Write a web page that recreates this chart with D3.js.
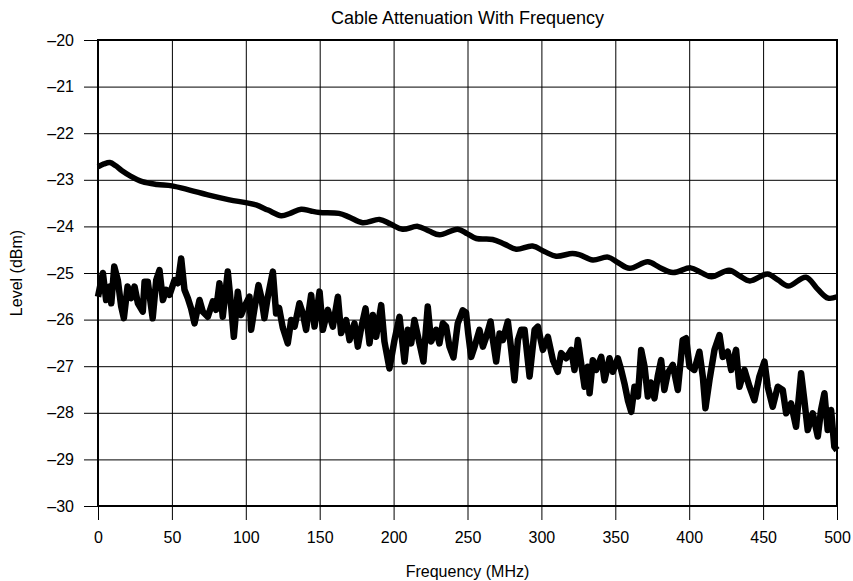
<!DOCTYPE html>
<html>
<head>
<meta charset="utf-8">
<script src="https://cdn.jsdelivr.net/npm/d3@7"></script>
<style>
  body { margin: 0; background: #fff; }
  text { font-family: "Liberation Sans", Arial, sans-serif; fill: #000; }
</style>
</head>
<body>
<svg id="chart"></svg>
<script>
// Tick values
const xTicks = [0, 50, 100, 150, 200, 250, 300, 350, 400, 450, 500];
const yTicks = [-30, -29, -28, -27, -26, -25, -24, -23, -22, -21, -20];

// Upper (smooth) trace
const upperFreq = [0, 4, 8, 12, 16, 22, 30, 40, 50, 62, 75, 89, 100, 107, 115, 124, 130, 137.5, 144, 150,
  163, 170, 179, 190.5, 198, 206, 216.4, 224, 231, 243.4, 250, 256, 267, 275, 283, 294, 302, 310, 321, 326,
  334.8, 345, 352, 359.6, 372, 380, 389, 401, 408, 415, 427, 434, 441, 453, 460, 467, 479, 487, 494, 500];
const upperLevel = [-22.72, -22.66, -22.63, -22.70, -22.80, -22.92, -23.04, -23.10, -23.13, -23.22, -23.33, -23.43, -23.49, -23.54, -23.65, -23.77, -23.72, -23.63, -23.67, -23.70,
  -23.72, -23.80, -23.92, -23.85, -23.95, -24.06, -24.00, -24.10, -24.18, -24.06, -24.16, -24.26, -24.28, -24.38, -24.49, -24.42, -24.54, -24.64, -24.58, -24.61,
  -24.72, -24.66, -24.78, -24.90, -24.76, -24.88, -24.99, -24.89, -24.99, -25.08, -24.94, -25.06, -25.17, -25.02, -25.15, -25.28, -25.09, -25.35, -25.54, -25.51];

// Lower (noisy) trace
const lowerFreq = [0, 3.3, 5.5, 7.8, 9, 11, 13.4, 15.7, 17.5, 20, 22.4, 24.7, 27, 30.3, 31.5, 33.7, 37, 39.4, 41.6, 43.9,
  46.1, 48.4, 51.8, 54, 56.3, 58.5, 60.8, 63, 65.3, 68.7, 70.9, 74.3, 77.7, 79.9, 82.2, 84.4, 87.8, 90.1, 91.9, 94.6,
  96.8, 99.1, 102.5, 103.6, 105.9, 108.6, 110.4, 112.6, 114.9, 118.3, 120.5, 122.5, 125, 128.4, 130.7, 133, 136.3, 138.6, 140.8, 144.2,
  146.5, 149.9, 152.1, 155.5, 158.9, 162.3, 164.5, 167.9, 170.2, 173.5, 175.8, 178, 181, 183.7, 186, 188.2, 191.6, 193.8, 197.2, 200.6,
  204, 207.4, 209.6, 211.9, 214.1, 217.5, 220.2, 223.1, 225.4, 228.8, 231, 233.3, 235.5, 237.8, 240.5, 243.4, 246.8, 249, 250.5, 252.5,
  254.8, 258.1, 260.4, 262.7, 265.6, 267.2, 269.4, 271.7, 273.9, 277.3, 279.6, 281.8, 284.1, 286.3, 288.6, 292, 295.4, 297.6, 301, 304.4,
  307.8, 311.1, 313.4, 316.8, 320.2, 322.4, 324.7, 326.9, 329.2, 331.4, 332.6, 334.8, 337.1, 340.5, 342.7, 346.1, 348.3, 351.7, 354, 356.2,
  358.5, 360.8, 363, 365.3, 367.5, 369.8, 372, 374, 376.5, 378.7, 381, 383.2, 385.5, 388.9, 392.3, 395.6, 397.9, 400.2, 403.5, 406.9,
  409.2, 411, 413.7, 417.1, 420.5, 422.7, 426.1, 428.4, 431.7, 434, 437.4, 440.8, 444.1, 447.5, 450.9, 453.1, 456.5, 459.9, 463.3, 465.6,
  468.9, 472.3, 475.7, 477.9, 480.2, 483.6, 487, 489.2, 491.5, 493.7, 496, 498.2, 500];
const lowerLevel = [-25.51, -25.00, -25.58, -25.29, -25.65, -24.86, -25.15, -25.72, -25.97, -25.29, -25.54, -25.29, -25.65, -25.83, -25.19, -25.19, -25.97, -25.15, -24.94, -25.58,
  -25.36, -25.47, -25.15, -25.22, -24.69, -25.36, -25.54, -25.76, -26.08, -25.58, -25.83, -25.94, -25.61, -25.79, -25.22, -25.94, -24.97, -25.72, -26.37, -25.40,
  -25.90, -25.72, -25.51, -26.22, -25.76, -25.26, -25.51, -25.97, -25.51, -24.97, -25.87, -25.75, -26.17, -26.51, -26.01, -26.15, -25.65, -25.87, -26.22, -25.47,
  -26.15, -25.40, -26.22, -25.79, -26.15, -25.51, -26.29, -26.01, -26.44, -26.08, -26.58, -26.19, -25.76, -26.51, -25.90, -26.37, -25.69, -26.47, -27.05, -26.44,
  -25.94, -26.90, -26.22, -26.51, -26.01, -26.51, -26.90, -25.72, -26.47, -26.22, -26.51, -26.08, -26.15, -26.58, -26.81, -26.08, -25.80, -25.85, -26.30, -26.80,
  -26.58, -26.22, -26.58, -26.37, -26.04, -26.44, -26.90, -26.30, -26.44, -26.04, -26.65, -27.30, -26.44, -26.22, -26.22, -27.22, -26.22, -26.15, -26.65, -26.37,
  -26.87, -27.12, -26.72, -26.83, -26.65, -27.08, -26.44, -26.94, -27.44, -27.01, -27.58, -26.87, -27.08, -26.80, -27.30, -26.83, -27.12, -26.83, -27.08, -27.37,
  -27.73, -27.98, -27.44, -27.65, -26.65, -27.01, -27.65, -27.35, -27.69, -27.22, -26.87, -27.51, -27.15, -26.97, -27.51, -26.44, -26.40, -27.01, -27.08, -26.69,
  -27.22, -27.90, -27.30, -26.65, -26.33, -26.80, -26.69, -27.08, -26.65, -27.44, -27.08, -27.44, -27.73, -27.22, -26.90, -27.44, -27.87, -27.44, -27.51, -28.01,
  -27.80, -28.30, -27.15, -27.73, -28.37, -28.01, -28.51, -27.94, -27.58, -28.37, -27.94, -28.73, -28.80];

const title = "Cable Attenuation With Frequency";
const xTitle = "Frequency (MHz)";
const yTitle = "Level (dBm)";

// Chart dimensions
const width = 853;
const height = 581;
const margin = { top: 40, right: 16, bottom: 75, left: 98 };
const plotW = width - margin.left - margin.right;
const plotH = height - margin.top - margin.bottom;

const svg = d3.select("#chart")
    .attr("width", width)
    .attr("height", height);

const g = svg.append("g")
    .attr("transform", `translate(${margin.left}, ${margin.top})`);

const x = d3.scaleLinear().domain([0, 500]).range([0, plotW]);
const y = d3.scaleLinear().domain([-30, -20]).range([plotH, 0]);

const fmt = d => d < 0 ? "\u2013" + Math.abs(d) : String(d);

// Gridlines
g.append("g")
    .attr("class", "grid")
    .call(d3.axisLeft(y).tickValues(yTicks).tickSize(-plotW).tickFormat(""))
    .call(s => s.select(".domain").remove())
    .selectAll("line").attr("stroke", "#000").attr("stroke-width", 1);

g.append("g")
    .attr("class", "grid")
    .attr("transform", `translate(0, ${plotH})`)
    .call(d3.axisBottom(x).tickValues(xTicks).tickSize(-plotH).tickFormat(""))
    .call(s => s.select(".domain").remove())
    .selectAll("line").attr("stroke", "#000").attr("stroke-width", 1);

// Axes with outward ticks
g.append("g")
    .call(d3.axisLeft(y).tickValues(yTicks).tickSize(14).tickPadding(10).tickFormat(fmt))
    .call(s => s.select(".domain").remove())
    .selectAll("text")
    .style("font-size", "16px")
    .attr("fill", "#000");

g.append("g")
    .attr("transform", `translate(0, ${plotH})`)
    .call(d3.axisBottom(x).tickValues(xTicks).tickSize(14).tickPadding(12).tickFormat(fmt))
    .call(s => s.select(".domain").remove())
    .selectAll("text")
    .style("font-size", "16px")
    .attr("fill", "#000");

// Plot frame
g.append("rect")
    .attr("width", plotW)
    .attr("height", plotH)
    .attr("fill", "none")
    .attr("stroke", "#000")
    .attr("stroke-width", 2);

// Traces
const upper = upperFreq.map((f, i) => ({ f: f, v: upperLevel[i] }));
const lower = lowerFreq.map((f, i) => ({ f: f, v: lowerLevel[i] }));

g.append("path")
    .datum(lower)
    .attr("fill", "none")
    .attr("stroke", "#000")
    .attr("stroke-width", 6.5)
    .attr("stroke-linejoin", "round")
    .attr("d", d3.line().x(d => x(d.f)).y(d => y(d.v)));

g.append("path")
    .datum(upper)
    .attr("fill", "none")
    .attr("stroke", "#000")
    .attr("stroke-width", 5.5)
    .attr("stroke-linejoin", "round")
    .attr("d", d3.line().curve(d3.curveCatmullRom).x(d => x(d.f)).y(d => y(d.v)));

// Titles
svg.append("text")
    .attr("x", margin.left + plotW / 2)
    .attr("y", 24)
    .attr("text-anchor", "middle")
    .style("font-size", "18px")
    .text(title);

svg.append("text")
    .attr("x", margin.left + plotW / 2)
    .attr("y", 577)
    .attr("text-anchor", "middle")
    .style("font-size", "16px")
    .text(xTitle);

svg.append("text")
    .attr("transform", `translate(22, ${margin.top + plotH / 2}) rotate(-90)`)
    .attr("text-anchor", "middle")
    .style("font-size", "16px")
    .text(yTitle);
</script>
</body>
</html>
